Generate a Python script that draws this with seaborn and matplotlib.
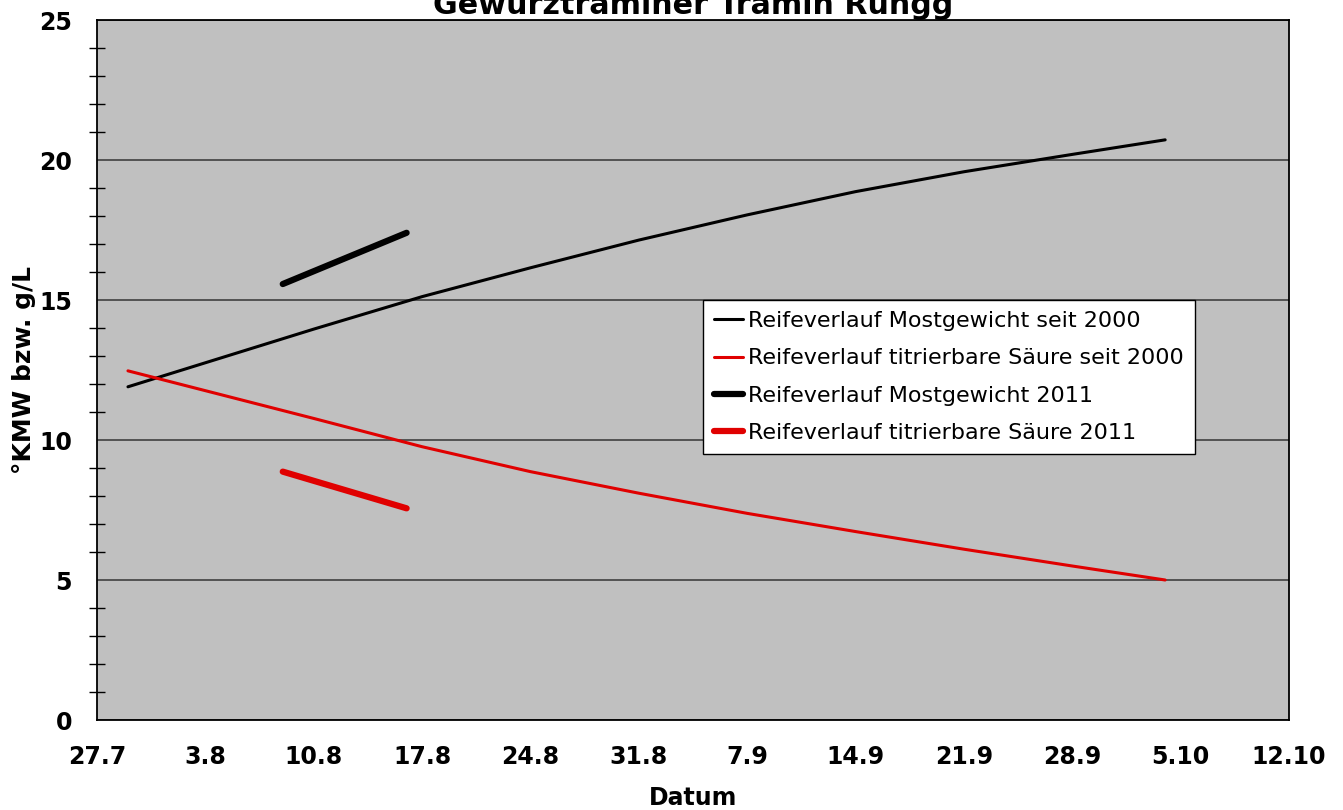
import pandas as pd
import seaborn as sns
import matplotlib.pyplot as plt
from matplotlib.ticker import MultipleLocator

dates_avg = ["2011-07-29", "2011-08-10", "2011-08-17", "2011-08-24", "2011-08-31",
             "2011-09-07", "2011-09-14", "2011-09-21", "2011-09-28", "2011-10-04"]
most_avg = [11.9, 13.96, 15.12, 16.15, 17.14, 18.04, 18.87, 19.58, 20.2, 20.72]
saeure_avg = [12.47, 10.77, 9.76, 8.87, 8.1, 7.38, 6.73, 6.1, 5.5, 5.0]

# 2011 season
dates_2011 = ["2011-08-08", "2011-08-16"]
most_2011 = [15.57, 17.4]
saeure_2011 = [8.87, 7.56]

xticks = pd.date_range("2011-07-27", "2011-10-12", freq="7D")

avg = pd.DataFrame({"Datum": pd.to_datetime(dates_avg),
                    "most": most_avg, "saeure": saeure_avg})
y11 = pd.DataFrame({"Datum": pd.to_datetime(dates_2011),
                    "most": most_2011, "saeure": saeure_2011})

sns.set_style("white")
plt.rcParams["font.family"] = ["DejaVu Sans"]
plt.rcParams["text.color"] = "black"
plt.rcParams["xtick.color"] = "black"
plt.rcParams["ytick.color"] = "black"
plt.rcParams["axes.labelcolor"] = "black"
red = "#E00000"

fig = plt.figure(figsize=(13.43, 8.1), dpi=100)
ax = fig.add_axes([97 / 1343, 90 / 810, 1192 / 1343, 700 / 810])
ax.set_facecolor("#C0C0C0")

sns.lineplot(data=avg, x="Datum", y="most", ax=ax, color="black", lw=2.2,
             label="Reifeverlauf Mostgewicht seit 2000")
sns.lineplot(data=avg, x="Datum", y="saeure", ax=ax, color=red, lw=2.2,
             label="Reifeverlauf titrierbare Säure seit 2000")
sns.lineplot(data=y11, x="Datum", y="most", ax=ax, color="black", lw=4.5,
             solid_capstyle="round", label="Reifeverlauf Mostgewicht 2011")
sns.lineplot(data=y11, x="Datum", y="saeure", ax=ax, color=red, lw=4.5,
             solid_capstyle="round", label="Reifeverlauf titrierbare Säure 2011")

ax.set_ylim(0, 25)
ax.set_xlim(xticks[0], xticks[-1])
ax.yaxis.set_major_locator(MultipleLocator(5))
ax.yaxis.set_minor_locator(MultipleLocator(1))
ax.set_xticks(xticks)
ax.set_xticklabels([f"{d.day}.{d.month}" for d in xticks])
ax.grid(axis="y", which="major", color="#404040", lw=1.2)
ax.set_axisbelow(True)

for s in ax.spines.values():
    s.set_color("black")
    s.set_linewidth(1.3)

ax.tick_params(axis="both", which="major", direction="out", length=8, width=1,
               labelsize=17, pad=10, color="black", labelcolor="black")
ax.tick_params(axis="y", which="minor", direction="inout", length=12, width=1,
               color="black", left=True)
for lab in ax.get_xticklabels() + ax.get_yticklabels():
    lab.set_fontweight("bold")

ax.set_xlabel("Datum", fontsize=17, fontweight="bold", labelpad=12)
ax.set_ylabel("°KMW bzw. g/L", fontsize=18, fontweight="bold", labelpad=2)

fig.text(693 / 1343, 1 - 14 / 810, "Gewürztraminer Tramin Rungg", ha="center",
         va="baseline", fontsize=21.7, fontweight="bold")

leg = ax.legend(loc="upper left", bbox_to_anchor=(0.508, 0.6), fontsize=16,
                frameon=True, fancybox=False, framealpha=1, edgecolor="black",
                handlelength=1.3, handletextpad=0.25, borderpad=0.5,
                labelspacing=0.78, borderaxespad=0)
leg.get_frame().set_linewidth(1)
for t in leg.get_texts():
    t.set_color("black")

fig.savefig("out.png", dpi=100)
